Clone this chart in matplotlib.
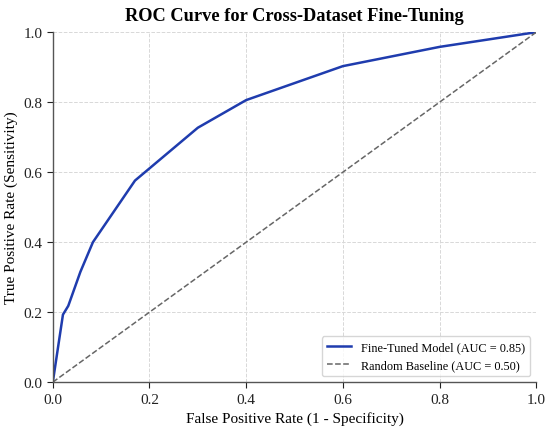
import matplotlib
matplotlib.use('Agg')
import matplotlib.pyplot as plt
import numpy as np

# ROC curve points
fpr = [0.0, 0.021, 0.032, 0.057, 0.083, 0.17, 0.30, 0.40, 0.60, 0.80, 1.0]
tpr = [0.0, 0.193, 0.218, 0.315, 0.40, 0.576, 0.727, 0.806, 0.903, 0.958, 1.0]
baseline = [0.0, 1.0]
model_label = 'Fine-Tuned Model (AUC = 0.85)'
baseline_label = 'Random Baseline (AUC = 0.50)'
ticks = [0.0, 0.2, 0.4, 0.6, 0.8, 1.0]

plt.rcParams['font.family'] = ['Liberation Serif', 'DejaVu Serif']

fig = plt.figure(figsize=(5.5, 4.31), dpi=100)
ax = fig.add_axes([0.096, 0.111, 0.879, 0.812])

ax.plot(fpr, tpr, color='#1f3cae', lw=1.8, label=model_label)
ax.plot(baseline, baseline, color='#666666', lw=1.1, ls='--', label=baseline_label)

ax.set_xlim(0, 1)
ax.set_ylim(0, 1)
ax.set_xticks(ticks)
ax.set_yticks(ticks)
ax.tick_params(labelsize=11, colors='#222222', length=4)
ax.grid(True, ls='--', color='#d8d8d8', lw=0.7)
ax.set_axisbelow(True)

for s in ['top', 'right']:
    ax.spines[s].set_visible(False)
for s in ['left', 'bottom']:
    ax.spines[s].set_color('#555555')
    ax.spines[s].set_linewidth(1.0)

ax.set_xlabel('False Positive Rate (1 - Specificity)', fontsize=11)
ax.set_ylabel('True Positive Rate (Sensitivity)', fontsize=11)
ax.set_title('ROC Curve for Cross-Dataset Fine-Tuning', fontsize=13.2, fontweight='bold', pad=9)

leg = ax.legend(loc='lower right', fontsize=8.8, frameon=True, fancybox=True)
leg.get_frame().set_edgecolor('#cccccc')

plt.savefig('out.png', dpi=100)
